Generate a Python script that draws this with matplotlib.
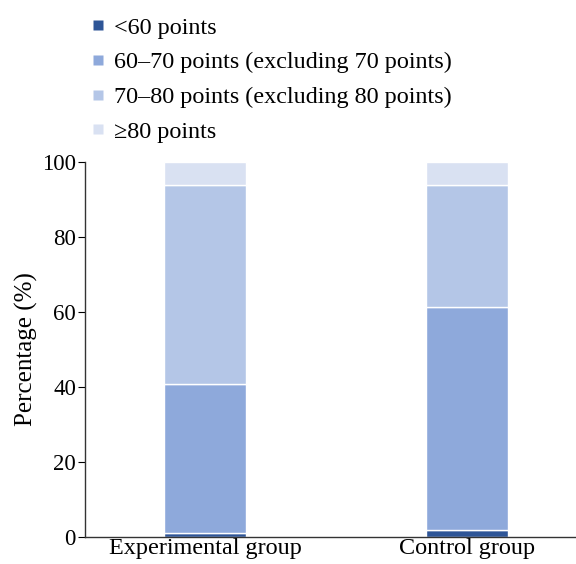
import matplotlib
matplotlib.use("Agg")
import matplotlib.pyplot as plt
from matplotlib.lines import Line2D

plt.rcParams['font.family'] = ['Liberation Serif', 'DejaVu Serif']

groups = ["Experimental group", "Control group"]
categories = ["<60 points", "60\u201370 points (excluding 70 points)",
              "70\u201380 points (excluding 80 points)", "\u226580 points"]
below60 = [1.1, 1.9]
p60_70 = [39.7, 59.5]
p70_80 = [53.2, 32.4]
above80 = [6.0, 6.2]
series = [below60, p60_70, p70_80, above80]
colors = ["#2E5597", "#8EA9DB", "#B4C6E7", "#D9E1F2"]
yticks = [0, 20, 40, 60, 80, 100]

FS = 17.4

fig = plt.figure(figsize=(5.76, 5.64), dpi=100)
ax = fig.add_axes([85/576, 1 - 537/564, (576-85)/576, (537-162)/564])

x = list(range(len(groups)))
bottom = [0.0] * len(groups)
for vals, c in zip(series, colors):
    ax.bar(x, vals, width=0.31, bottom=bottom, color=c, edgecolor="white", linewidth=1.0)
    bottom = [b + v for b, v in zip(bottom, vals)]

ax.set_xlim(-0.458, 1.416)
ax.set_ylim(0, 100)
ax.set_yticks(yticks)
ax.set_xticks(x)
ax.set_xticklabels(groups, fontsize=FS)
ax.tick_params(axis='x', length=0, pad=1)
ax.tick_params(axis='y', labelsize=16.5, length=5, direction='out', pad=1.5)
ax.spines['top'].set_visible(False)
ax.spines['right'].set_visible(False)
for s in ('left', 'bottom'):
    ax.spines[s].set_color('#333333')
    ax.spines[s].set_linewidth(1.0)
ax.set_ylabel("Percentage (%)", fontsize=18, labelpad=3)

handles = [Line2D([], [], marker='s', linestyle='none', markersize=6.5,
                  markerfacecolor=c, markeredgecolor='none') for c in colors]
fig.legend(handles, categories, loc='upper left', bbox_to_anchor=(84/576, 1 - 7/564),
           frameon=False, fontsize=FS, handlelength=0.36,
           handletextpad=0.5, labelspacing=0.53, borderaxespad=0)

fig.savefig("out.png", dpi=100)
